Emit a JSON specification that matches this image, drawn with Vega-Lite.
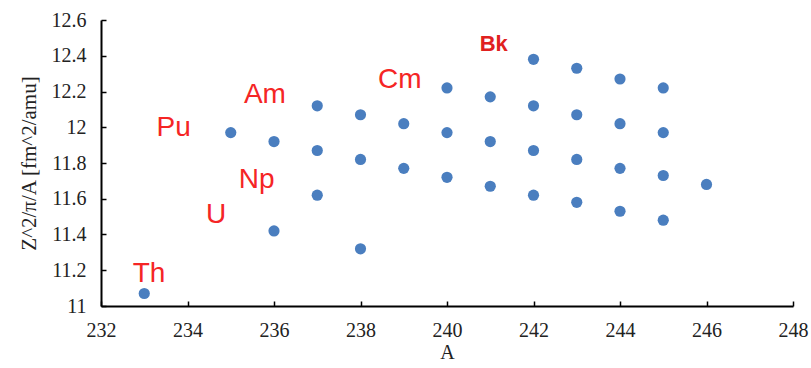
{
  "$schema": "https://vega.github.io/schema/vega-lite/v6.json",
  "autosize": "none",
  "width": 692,
  "height": 286,
  "padding": {"left": 101, "top": 20, "right": 18, "bottom": 62},
  "background": "white",
  "config": {"view": {"stroke": null}},
  "datasets": {
    "pts": [
      {"A": 233, "v": 11.07},
      {"A": 235, "v": 11.97},
      {"A": 236, "v": 11.92}, {"A": 236, "v": 11.42},
      {"A": 237, "v": 12.12}, {"A": 237, "v": 11.87}, {"A": 237, "v": 11.62},
      {"A": 238, "v": 12.07}, {"A": 238, "v": 11.82}, {"A": 238, "v": 11.32},
      {"A": 239, "v": 12.02}, {"A": 239, "v": 11.77},
      {"A": 240, "v": 12.22}, {"A": 240, "v": 11.97}, {"A": 240, "v": 11.72},
      {"A": 241, "v": 12.17}, {"A": 241, "v": 11.92}, {"A": 241, "v": 11.67},
      {"A": 242, "v": 12.38}, {"A": 242, "v": 12.12}, {"A": 242, "v": 11.87}, {"A": 242, "v": 11.62},
      {"A": 243, "v": 12.33}, {"A": 243, "v": 12.07}, {"A": 243, "v": 11.82}, {"A": 243, "v": 11.58},
      {"A": 244, "v": 12.27}, {"A": 244, "v": 12.02}, {"A": 244, "v": 11.77}, {"A": 244, "v": 11.53},
      {"A": 245, "v": 12.22}, {"A": 245, "v": 11.97}, {"A": 245, "v": 11.73}, {"A": 245, "v": 11.48},
      {"A": 246, "v": 11.68}
    ],
    "labels": [
      {"A": 233.11, "v": 11.134, "t": "Th"},
      {"A": 233.68, "v": 11.951, "t": "Pu"},
      {"A": 235.79, "v": 12.136, "t": "Am"},
      {"A": 238.91, "v": 12.22, "t": "Cm"},
      {"A": 235.6, "v": 11.66, "t": "Np"},
      {"A": 234.66, "v": 11.464, "t": "U"}
    ],
    "bk": [
      {"A": 241.08, "v": 12.427, "t": "Bk"}
    ]
  },
  "encoding": {
    "x": {
      "field": "A", "type": "quantitative",
      "scale": {"domain": [232, 248], "nice": false, "zero": false},
      "axis": {
        "title": "A", "values": [232, 234, 236, 238, 240, 242, 244, 246, 248],
        "grid": false, "domainColor": "black", "domainWidth": 2,
        "tickColor": "black", "tickWidth": 1.5, "tickSize": -5,
        "labelFont": "Liberation Serif", "labelFontSize": 20, "labelColor": "#222",
        "labelPadding": 19, "labelFlush": false,
        "titleFont": "Liberation Serif", "titleFontSize": 20, "titleFontWeight": "normal",
        "titleColor": "#222", "titlePadding": 2
      }
    },
    "y": {
      "field": "v", "type": "quantitative",
      "scale": {"domain": [11, 12.6], "nice": false, "zero": false},
      "axis": {
        "title": "Z^2/π/A [fm^2/amu]", "values": [11, 11.2, 11.4, 11.6, 11.8, 12, 12.2, 12.4, 12.6],
        "format": "~g",
        "grid": false, "domainColor": "black", "domainWidth": 2,
        "tickColor": "black", "tickWidth": 1.5, "tickSize": -5,
        "labelFont": "Liberation Serif", "labelFontSize": 20, "labelColor": "#222",
        "labelPadding": 20, "labelFlush": false,
        "titleFont": "Liberation Serif", "titleFontSize": 21, "titleFontWeight": "normal",
        "titleColor": "#222", "titlePadding": 12
      }
    }
  },
  "layer": [
    {
      "data": {"name": "pts"},
      "mark": {"type": "circle", "size": 125, "color": "#4a7ebf", "opacity": 1}
    },
    {
      "data": {"name": "labels"},
      "mark": {"type": "text", "font": "Liberation Sans", "fontSize": 28, "color": "#f52525", "align": "center", "baseline": "alphabetic"},
      "encoding": {"text": {"field": "t"}}
    },
    {
      "data": {"name": "bk"},
      "mark": {"type": "text", "font": "Liberation Sans", "fontSize": 22, "fontWeight": "bold", "color": "#e02020", "align": "center", "baseline": "alphabetic"},
      "encoding": {"text": {"field": "t"}}
    }
  ]
}
